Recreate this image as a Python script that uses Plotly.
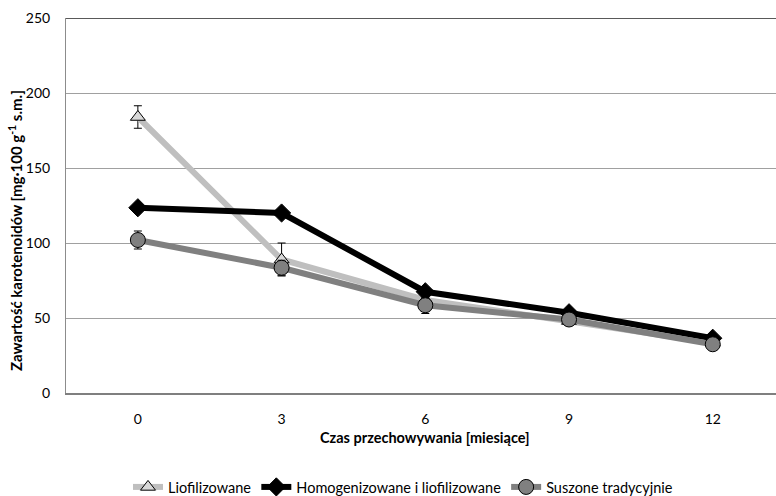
import plotly.graph_objects as go

months = [0, 3, 6, 9, 12]
tick_labels = ["0", "3", "6", "9", "12"]

lio = [184, 89, 62, 48, 33.5]
lio_err = [7.5, 11, 4, 3, 2]
homog = [123.5, 120, 67.5, 53.5, 36.5]
homog_err = [1.5, 2, 2, 2, 1.5]
susz = [102, 83.5, 58.5, 49, 32.5]
susz_err = [6, 5, 5.5, 3, 2]

names = ["Liofilizowane", "Homogenizowane i liofilizowane", "Suszone tradycyjnie"]

font_family = "Lato, 'Open Sans', Arial, sans-serif"

fig = go.Figure()

fig.add_trace(go.Scatter(
    x=months, y=lio, name=names[0], mode="lines+markers",
    line=dict(color="#BFBFBF", width=6),
    marker=dict(symbol="triangle-up", size=13, color="#D9D9D9",
                line=dict(color="#000000", width=1)),
    error_y=dict(type="data", array=lio_err, color="#000000", thickness=1, width=4),
))
fig.add_trace(go.Scatter(
    x=months, y=homog, name=names[1], mode="lines+markers",
    line=dict(color="#000000", width=6),
    marker=dict(symbol="diamond", size=14, color="#000000",
                line=dict(color="#000000", width=1)),
    error_y=dict(type="data", array=homog_err, color="#000000", thickness=1, width=4),
))
fig.add_trace(go.Scatter(
    x=months, y=susz, name=names[2], mode="lines+markers",
    line=dict(color="#808080", width=6),
    marker=dict(symbol="circle", size=15, color="#808080",
                line=dict(color="#000000", width=1)),
    error_y=dict(type="data", array=susz_err, color="#000000", thickness=1, width=4),
))

fig.add_shape(type="line", xref="paper", yref="y", x0=0, x1=1, y0=250, y1=250,
              line=dict(color="#595959", width=2))

# x-axis title
fig.add_annotation(
    text="<b>Czas przechowywania [miesiące]</b>",
    xref="paper", yref="paper", x=(425 - 66) / 710, y=-44 / 375,
    showarrow=False, font=dict(family=font_family, size=14.5, color="#000000"),
    xanchor="center", yanchor="middle",
)
# y-axis title
fig.add_annotation(
    text="<b>Zawartość karotenoidów [mg·100 g<sup>-1</sup> s.m.]</b>",
    xref="paper", yref="paper", x=(15 - 66) / 710, y=(393 - 231) / 375,
    showarrow=False, textangle=-90,
    font=dict(family=font_family, size=15, color="#000000"),
    xanchor="center", yanchor="middle",
)

fig.update_layout(
    width=776, height=496,
    margin=dict(l=66, r=0, t=18, b=103),
    paper_bgcolor="white", plot_bgcolor="white",
    font=dict(family=font_family, size=13, color="#000000"),
    showlegend=True,
    legend=dict(orientation="h", x=(128 - 66) / 710, xanchor="left",
                yref="container", y=1 - 487 / 496, yanchor="middle",
                font=dict(family=font_family, size=14.5, color="#000000"),
                itemwidth=30, tracegroupgap=0),
    xaxis=dict(
        range=[-1.5, 13.32], tickvals=months, ticktext=tick_labels,
        showgrid=False, zeroline=False, showline=True,
        linecolor="#7F7F7F", linewidth=2, ticks="", ticklabelstandoff=12,
        tickfont=dict(family=font_family, size=14, color="#000000"),
    ),
    yaxis=dict(
        range=[0, 250], tickvals=[0, 50, 100, 150, 200, 250],
        showgrid=True, gridcolor="#A0A0A0", gridwidth=1,
        zeroline=False, showline=True, linecolor="#8C8C8C", linewidth=1,
        ticks="", ticklabelstandoff=12,
        tickfont=dict(family=font_family, size=14, color="#000000"),
    ),
)

fig.write_html("out.html")
